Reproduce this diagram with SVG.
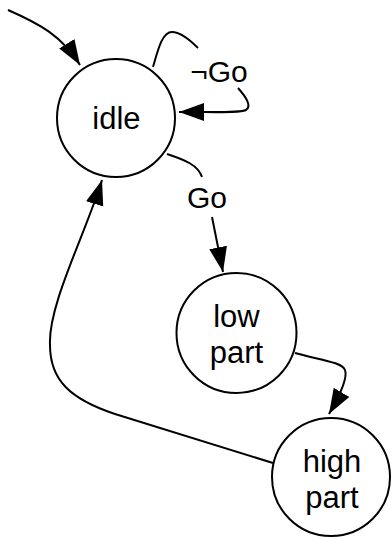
<svg xmlns="http://www.w3.org/2000/svg" width="392" height="539" viewBox="0 0 392 539">
<style>
.node circle{fill:#fff;stroke:#000;stroke-width:2}
.lbl{font-family:"Liberation Sans",Arial,sans-serif;font-size:31px;fill:#000;text-anchor:middle}
.elbl{font-family:"Liberation Sans",Arial,sans-serif;font-size:30px;fill:#000;text-anchor:middle}
.edge{fill:none;stroke:#000;stroke-width:2;marker-end:url(#arr)}
</style>
<defs>
<marker id="arr" markerUnits="userSpaceOnUse" markerWidth="26" markerHeight="20" refX="25" refY="9" orient="auto">
<path d="M0,0 L25,9 L0,18 Z" fill="#000"/>
</marker>
</defs>
<g id="connectors">
<path class="edge" d="M8,10 C40,24 62,36 80,65"/>
<path class="edge" d="M153,67 C158,50 162,32 172,32 C180,32 190,40 198,48 M238,88 C246,97 252,106 246,110 C240,113 220,112 179,112"/>
<path class="edge" d="M167,154 C185,160 198,165 202,177 M212,217 L223,272"/>
<path class="edge" d="M295,353 C320,360 342,362 345,370 C348,378 340,395 329,414"/>
<path class="edge" d="M273,463 L115,414 C70,399 50,380 50,345 C48,305 85,235 102,180"/>
<text class="elbl" x="219" y="82">¬Go</text>
<text class="elbl" x="207" y="208">Go</text>
</g>
<g id="idle" class="node">
<circle cx="116" cy="118" r="59"/>
<text class="lbl" x="116.5" y="128.5">idle</text>
</g>
<g id="low" class="node">
<circle cx="236.5" cy="333" r="60"/>
<text class="lbl" x="236.5" y="326.5">low</text>
<text class="lbl" x="236.5" y="363">part</text>
</g>
<g id="high" class="node">
<circle cx="331" cy="477" r="59"/>
<text class="lbl" x="332" y="471.5">high</text>
<text class="lbl" x="332" y="508">part</text>
</g>
</svg>
